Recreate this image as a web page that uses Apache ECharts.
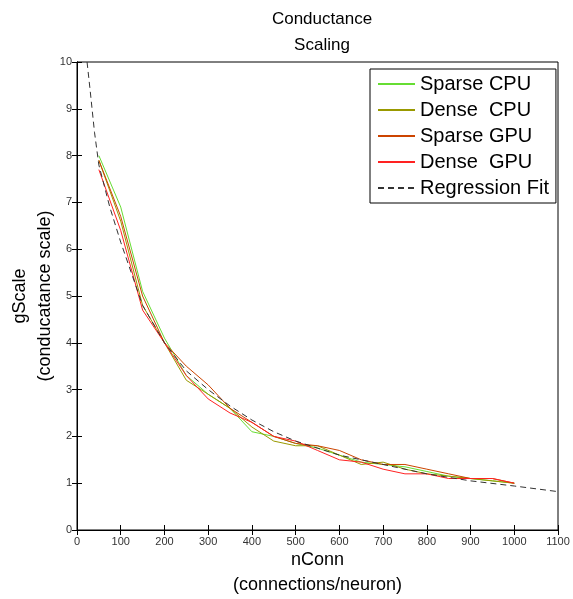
<!DOCTYPE html>
<html><head><meta charset="utf-8">
<script src="https://cdn.jsdelivr.net/npm/echarts@6/dist/echarts.min.js"></script>
<style>html,body{margin:0;padding:0;background:#fff}#c{width:573px;height:599px}</style>
</head><body><div id="c"></div>
<script>
var nConn = [50,100,150,200,250,300,350,400,450,500,550,600,650,700,750,800,850,900,950,1000];
var sparseCPU = [8.0,6.9,5.1,4.1,3.3,2.9,2.6,2.1,2.0,1.85,1.75,1.6,1.45,1.4,1.35,1.25,1.15,1.1,1.05,1.0];
var denseCPU  = [7.9,6.6,4.8,4.0,3.2,2.9,2.6,2.2,1.9,1.8,1.8,1.6,1.4,1.45,1.3,1.2,1.15,1.1,1.05,1.0];
var sparseGPU = [7.9,6.7,5.0,4.0,3.5,3.1,2.6,2.3,2.0,1.85,1.8,1.7,1.5,1.4,1.4,1.3,1.2,1.1,1.1,1.0];
var denseGPU  = [7.7,6.4,4.7,4.0,3.3,2.8,2.5,2.3,2.0,1.9,1.7,1.5,1.45,1.3,1.2,1.2,1.1,1.1,1.1,1.0];
var fitX = [23,30,40,50,75,100,150,200,250,300,350,400,450,500,600,700,800,900,1000,1100];
var fitY = [10,9.4,8.5,7.8,6.9,6.15,4.8,4.0,3.4,3.0,2.65,2.35,2.1,1.9,1.6,1.4,1.2,1.05,0.94,0.82];
var legendNames = ['Sparse CPU','Dense  CPU','Sparse GPU','Dense  GPU','Regression Fit'];

function pairs(xs, ys){ return xs.map(function(x,i){ return [x, ys[i]]; }); }

var chart = echarts.init(document.getElementById('c'));
var tickStyle = {show:true, inside:true, length:5, lineStyle:{color:'#000'}};
var font = 'Liberation Sans, Arial, sans-serif';
function line(name, data, color, dashed){
  return {name:name, type:'line', data:data, showSymbol:false, symbol:'none', smooth:false,
    lineStyle:{color:color, width:1, type: dashed ? [6,4] : 'solid'}, itemStyle:{color:color},
    animation:false, z: dashed ? 3 : 2};
}
chart.setOption({
  animation:false,
  backgroundColor:'#fff',
  title:{text:'Conductance\nScaling', left:317, top:1, textAlign:'center',
    textStyle:{fontFamily:font, fontSize:17, fontWeight:'normal', color:'#000', lineHeight:26}},
  grid:{left:77, right:15, top:62, bottom:69, show:true, borderColor:'#000', borderWidth:1, outerBoundsMode:'none', containLabel:false},
  legend:{orient:'vertical', left:370, top:69, padding:[5,7,5,7], itemGap:6, itemWidth:37, itemHeight:20,
    backgroundColor:'#fff', borderColor:'#000', borderWidth:1, borderRadius:0,
    itemStyle:{opacity:0}, lineStyle:{opacity:1},
    textStyle:{fontFamily:font, fontSize:20, color:'#000'},
    data: legendNames},
  xAxis:[
    {type:'value', min:0, max:1100, interval:100, position:'bottom',
     name:'nConn\n(connections/neuron)', nameLocation:'middle', nameGap:18, nameMoveOverlap:false,
     nameTextStyle:{fontFamily:font, fontSize:18, color:'#000', lineHeight:25},
     axisLine:{show:true, lineStyle:{color:'#000'}}, axisTick:tickStyle, splitLine:{show:false},
     axisLabel:{fontFamily:font, fontSize:11, color:'#333', margin:6, formatter:function(v){return String(v);}}},
    {type:'value', min:0, max:1100, interval:100, position:'top',
     axisLine:{show:true, lineStyle:{color:'#000'}}, axisTick:tickStyle, splitLine:{show:false}, axisLabel:{show:false}}
  ],
  yAxis:[
    {type:'value', min:0, max:10, interval:1, position:'left',
     name:'gScale\n(conducatance scale)', nameLocation:'middle', nameGap:19, nameRotate:90, nameMoveOverlap:false,
     nameTextStyle:{fontFamily:font, fontSize:18, color:'#000', lineHeight:25},
     axisLine:{show:true, lineStyle:{color:'#000'}}, axisTick:tickStyle, splitLine:{show:false},
     axisLabel:{fontFamily:font, fontSize:11, color:'#333', margin:5}},
    {type:'value', min:0, max:10, interval:1, position:'right',
     axisLine:{show:true, lineStyle:{color:'#000'}}, axisTick:tickStyle, splitLine:{show:false}, axisLabel:{show:false}}
  ],
  series:[
    line('Sparse CPU', pairs(nConn, sparseCPU), '#66dd33'),
    line('Dense  CPU', pairs(nConn, denseCPU), '#999900'),
    line('Sparse GPU', pairs(nConn, sparseGPU), '#cc4400'),
    line('Dense  GPU', pairs(nConn, denseGPU), '#ff2222'),
    line('Regression Fit', pairs(fitX, fitY), '#333333', true)
  ]
});
</script></body></html>
